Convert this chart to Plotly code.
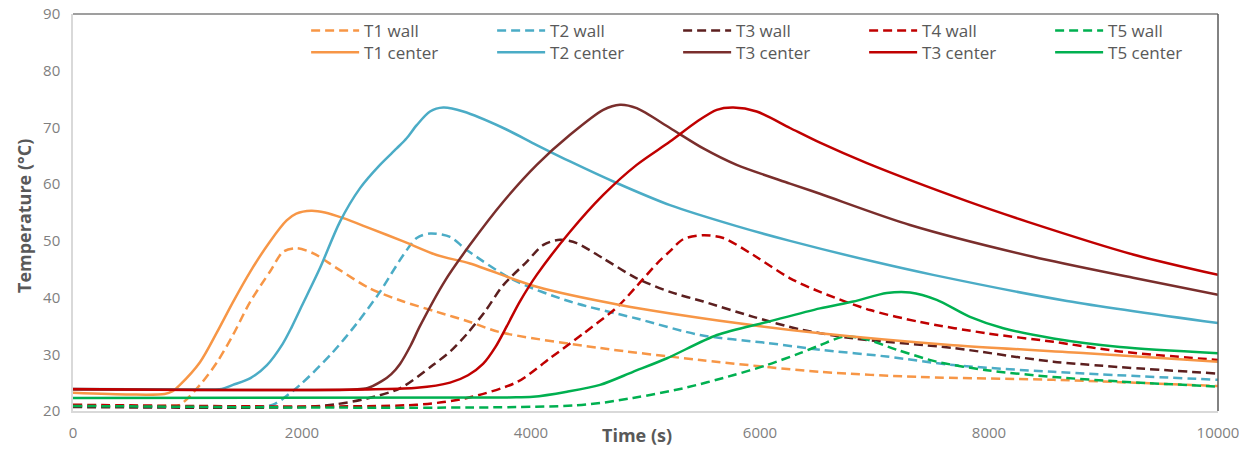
import plotly.graph_objects as go

# ---------------- data ----------------
t1_wall_t = [0, 600, 850, 934, 1109, 1258, 1397, 1546, 1721, 1837, 1954, 2099, 2303, 2594, 2885, 3176, 3467, 3729, 4603, 5476, 6524, 7397, 8562, 10000]
t1_wall_v = [20.8, 20.8, 20.9, 21.1, 24.6, 28.6, 33.4, 39.2, 44.6, 48.1, 48.7, 47.8, 45.2, 41.6, 39.3, 37.5, 35.7, 33.9, 31.1, 29.0, 26.9, 26.0, 25.5, 24.4]

t2_wall_t = [0, 1600, 1747, 1983, 2271, 2477, 2681, 2780, 2885, 3002, 3118, 3293, 3438, 3846, 4341, 4923, 5476, 6061, 6524, 7107, 7688, 8562, 10000]
t2_wall_v = [20.8, 20.8, 21.1, 24.6, 30.4, 35.4, 41.0, 44.2, 47.5, 50.5, 51.3, 50.7, 48.4, 43.1, 39.3, 36.3, 33.4, 32.0, 30.8, 29.6, 28.1, 26.9, 25.5]

t3_wall_t = [0, 2000, 2300, 2568, 2856, 3144, 3300, 3441, 3600, 3758, 3962, 4108, 4253, 4399, 4631, 4923, 5214, 5505, 5942, 6349, 6815, 7688, 8562, 10000]
t3_wall_v = [20.7, 20.7, 21.2, 22.2, 24.0, 28.1, 30.6, 33.6, 37.6, 42.2, 46.3, 49.3, 50.2, 49.6, 46.9, 43.4, 41.0, 39.3, 36.6, 34.4, 32.8, 31.1, 28.7, 26.6]

t4_wall_t = [0, 3000, 3441, 3878, 4166, 4454, 4751, 4923, 5100, 5214, 5330, 5505, 5680, 5942, 6262, 6524, 6961, 7397, 7980, 8562, 9144, 10000]
t4_wall_v = [21.1, 21.1, 22.3, 25.1, 29.3, 33.6, 38.3, 42.0, 46.0, 48.2, 50.3, 51.0, 50.5, 47.5, 43.4, 41.0, 37.8, 35.7, 33.7, 32.2, 30.5, 29.0]

t5_wall_t = [0, 4400, 4891, 5328, 5764, 6061, 6349, 6524, 6728, 6902, 7194, 7543, 7980, 8562, 9144, 10000]
t5_wall_v = [20.9, 21.0, 22.3, 24.0, 26.3, 28.1, 30.2, 31.6, 33.1, 32.8, 30.8, 28.7, 27.2, 26.0, 25.2, 24.3]

t1_center_t = [0, 500, 800, 870, 934, 1109, 1258, 1397, 1546, 1721, 1866, 1950, 2080, 2200, 2361, 2594, 2885, 3176, 3467, 4050, 4777, 5796, 6524, 7688, 8853, 10000]
t1_center_v = [23.2, 22.9, 23.0, 23.5, 24.6, 28.6, 33.9, 39.2, 44.5, 49.9, 53.6, 54.8, 55.3, 55.0, 54.0, 52.2, 49.9, 47.5, 46.0, 41.9, 38.7, 35.5, 33.7, 31.6, 30.2, 28.7]

t2_center_t = [0, 1000, 1300, 1397, 1550, 1694, 1830, 1910, 2000, 2157, 2332, 2507, 2681, 2827, 2914, 3002, 3118, 3234, 3409, 3758, 4050, 4341, 4748, 5214, 5796, 6262, 7000, 7511, 8681, 10000]
t2_center_v = [23.9, 23.8, 23.9, 24.6, 25.8, 28.1, 31.8, 34.8, 38.6, 45.2, 53.4, 59.3, 63.4, 66.3, 68.1, 70.4, 72.8, 73.5, 72.8, 69.9, 66.9, 64.0, 60.2, 56.3, 52.6, 50.0, 46.3, 44.0, 39.4, 35.5]

t3_center_t = [0, 2000, 2271, 2568, 2700, 2780, 2856, 2950, 3031, 3250, 3467, 3758, 4050, 4341, 4631, 4777, 4923, 5214, 5505, 5796, 6262, 6524, 7310, 8384, 9258, 10000]
t3_center_v = [23.8, 23.7, 23.7, 24.0, 25.3, 26.5, 28.3, 31.6, 35.0, 43.0, 49.3, 56.9, 63.4, 68.7, 73.1, 74.0, 73.4, 69.9, 66.3, 63.4, 60.1, 58.3, 52.8, 47.2, 43.5, 40.5]

t4_center_t = [0, 2000, 3004, 3293, 3450, 3581, 3690, 3790, 3900, 4050, 4341, 4631, 4923, 5214, 5447, 5622, 5767, 5971, 6262, 6524, 6934, 7808, 8332, 9258, 10000]
t4_center_v = [23.9, 23.7, 24.1, 25.0, 26.3, 28.3, 31.3, 35.0, 39.2, 44.0, 51.6, 58.1, 63.4, 67.5, 71.0, 73.1, 73.5, 72.8, 69.9, 67.3, 63.7, 57.0, 53.4, 47.6, 44.0]

t5_center_t = [0, 3800, 4017, 4314, 4603, 4891, 5188, 5624, 6061, 6524, 6815, 7107, 7310, 7543, 7834, 8125, 8562, 9144, 10000]
t5_center_v = [22.3, 22.4, 22.5, 23.4, 24.6, 26.9, 29.3, 33.4, 35.7, 38.1, 39.3, 40.8, 40.9, 39.6, 36.6, 34.6, 32.8, 31.3, 30.2]

wall_names = ["T1 wall", "T2 wall", "T3 wall", "T4 wall", "T5 wall"]
center_names = ["T1 center", "T2 center", "T3 center", "T3 center", "T5 center"]
x_ticks = [0, 2000, 4000, 6000, 8000, 10000]
y_ticks = [20, 30, 40, 50, 60, 70, 80, 90]

wall_colors = ["#F79646", "#4BACC6", "#5C1F1F", "#C00000", "#00B050"]
center_colors = ["#F79646", "#4BACC6", "#7A2E2C", "#C00000", "#00B050"]

walls = [(t1_wall_t, t1_wall_v), (t2_wall_t, t2_wall_v), (t3_wall_t, t3_wall_v),
         (t4_wall_t, t4_wall_v), (t5_wall_t, t5_wall_v)]
centers = [(t1_center_t, t1_center_v), (t2_center_t, t2_center_v), (t3_center_t, t3_center_v),
           (t4_center_t, t4_center_v), (t5_center_t, t5_center_v)]

FONT = "Open Sans"
fig = go.Figure()

for (tt, vv), name, col in zip(walls, wall_names, wall_colors):
    fig.add_trace(go.Scatter(x=tt, y=vv, name=name, mode="lines", legend="legend",
                             line=dict(color=col, width=2.5, dash="9px,5px", shape="spline", smoothing=0.8)))
for (tt, vv), name, col in zip(centers, center_names, center_colors):
    fig.add_trace(go.Scatter(x=tt, y=vv, name=name, mode="lines", legend="legend2",
                             line=dict(color=col, width=2.5, shape="spline", smoothing=0.8)))

leg_common = dict(orientation="h", xanchor="left", yanchor="top", x=0.2036,
                  bgcolor="rgba(0,0,0,0)", borderwidth=0,
                  font=dict(family=FONT, size=17, color="#595959"),
                  entrywidth=123, entrywidthmode="pixels", itemwidth=48,
                  tracegroupgap=0)

fig.update_layout(
    width=1239, height=450,
    margin=dict(l=73, r=21, t=14, b=39, autoexpand=False),
    paper_bgcolor="white", plot_bgcolor="white",
    font=dict(family=FONT, color="#595959"),
    showlegend=True,
    legend=dict(**leg_common, y=1.0025),
    legend2=dict(**leg_common, y=0.948),
    xaxis=dict(range=[0, 10000], tickvals=x_ticks, ticktext=[str(v) for v in x_ticks],
               showgrid=False, zeroline=False, showline=True, linecolor="#D9D9D9", linewidth=1.5,
               ticks="", ticklabelstandoff=7, ticklabeloverflow="allow",
               tickfont=dict(family=FONT, size=15, color="#7F7F7F")),
    yaxis=dict(range=[20, 90], tickvals=y_ticks, ticktext=[str(v) for v in y_ticks],
               showgrid=False, zeroline=False, showline=True, linecolor="#D9D9D9", linewidth=1.5,
               ticks="", ticklabelstandoff=8, tickfont=dict(family=FONT, size=15, color="#7F7F7F")),
    shapes=[
        dict(type="line", xref="paper", yref="paper", x0=0, x1=1, y0=1, y1=1,
             line=dict(color="#7F7F7F", width=1.5)),
        dict(type="line", xref="paper", yref="paper", x0=1, x1=1, y0=0, y1=1,
             line=dict(color="#595959", width=1.5)),
    ],
    annotations=[
        dict(text="<b>Time (s)</b>", xref="paper", yref="paper", x=(637 - 73) / 1145, y=-(435 - 411) / 397,
             xanchor="center", yanchor="middle", showarrow=False,
             font=dict(family=FONT, size=18, color="#595959")),
        dict(text="<b>Temperature (°C)</b>", xref="paper", yref="paper", x=-(73 - 24) / 1145,
             y=(411 - 216) / 397, xanchor="center", yanchor="middle", textangle=-90, showarrow=False,
             font=dict(family=FONT, size=18, color="#595959")),
    ],
)

fig.write_html("out.html")
